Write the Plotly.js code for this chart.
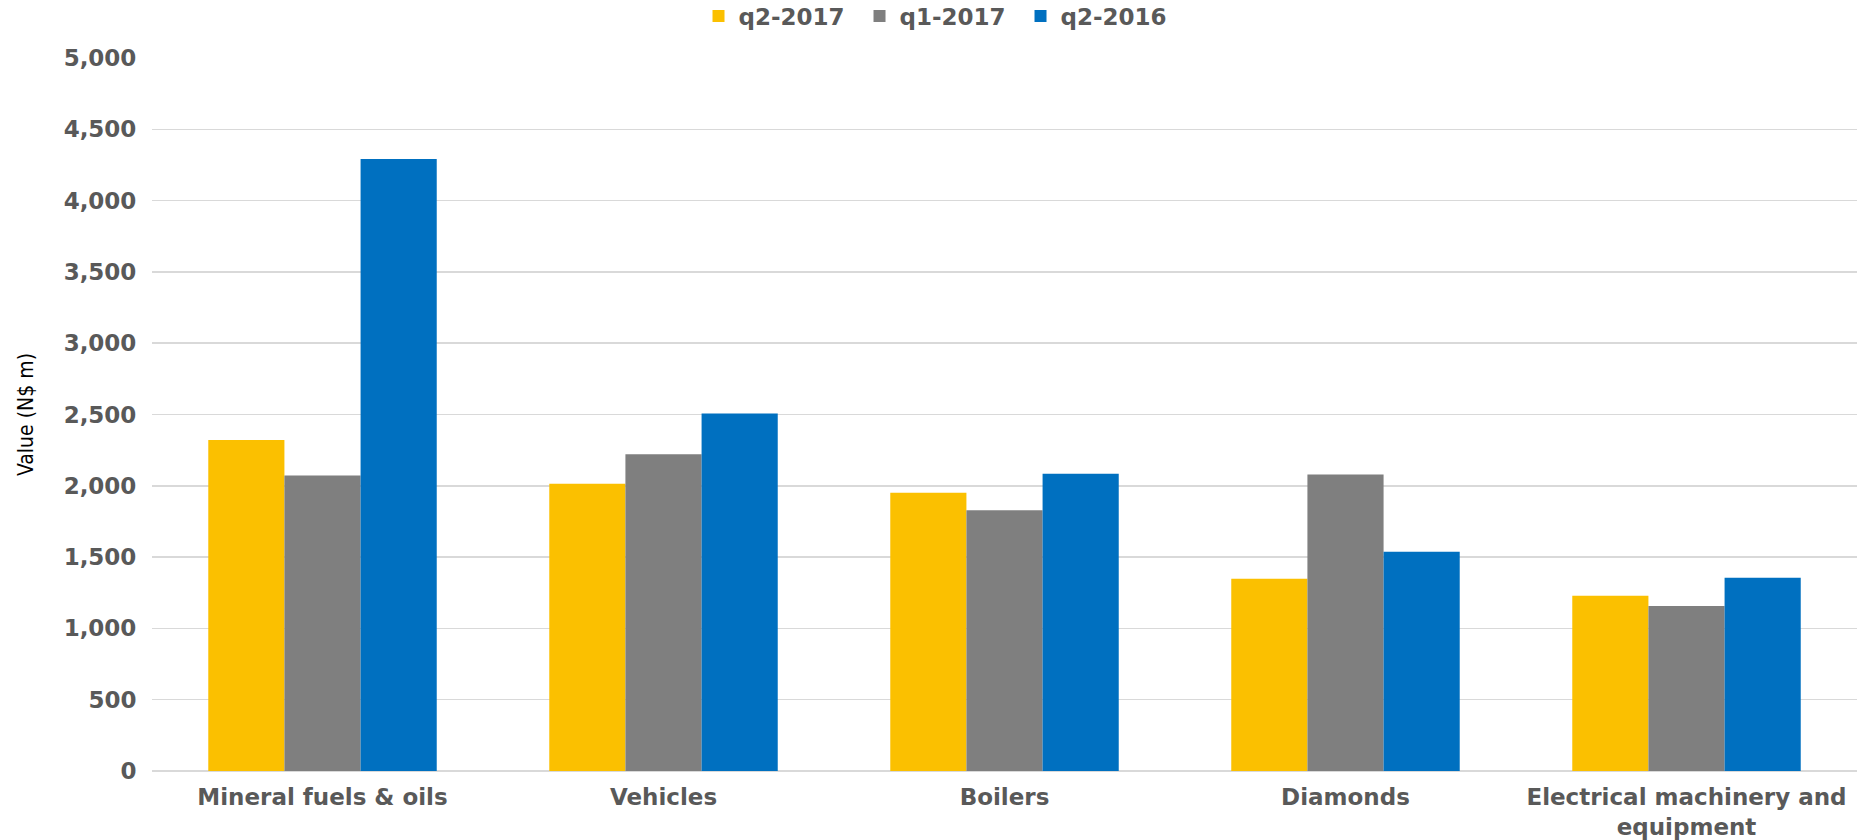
<!DOCTYPE html>
<html>
<head>
<meta charset="utf-8">
<script src="https://cdn.plot.ly/plotly-3.0.1.min.js"></script>
<style>html,body{margin:0;padding:0;background:#fff;}#chart{width:1864px;height:840px;}</style>
</head>
<body>
<div id="chart"></div>
<script>
const categories = ["Mineral fuels & oils", "Vehicles", "Boilers", "Diamonds", "Electrical machinery and<br>equipment"];
const seriesNames = ["q2-2017", "q1-2017", "q2-2016"];
const q2_2017 = [2322, 2014, 1951, 1348, 1229];
const q1_2017 = [2072, 2222, 1829, 2079, 1157];
const q2_2016 = [4292, 2507, 2084, 1537, 1355];
const colors = ["#FBC000", "#7F7F7F", "#0070C0"];
const yTicks = [0, 500, 1000, 1500, 2000, 2500, 3000, 3500, 4000, 4500, 5000];

const seriesValues = [q2_2017, q1_2017, q2_2016];
const traces = seriesValues.map((vals, i) => ({
  type: 'bar',
  name: seriesNames[i],
  x: categories,
  y: vals,
  marker: {color: colors[i], line: {width: 0}},
  hoverinfo: 'x+y+name'
}));

const tickFont = {family: 'DejaVu Sans, Verdana, sans-serif', size: 23, color: '#595959', weight: 'bold'};

const layout = {
  width: 1864,
  height: 840,
  margin: {l: 152, r: 7, t: 58, b: 69, autoexpand: false},
  paper_bgcolor: '#ffffff',
  plot_bgcolor: '#ffffff',
  barmode: 'group',
  bargap: 0.33,
  bargroupgap: 0,
  showlegend: true,
  legend: {
    orientation: 'h',
    x: 0.5043, xref: 'container', xanchor: 'center',
    y: 0.981, yref: 'container', yanchor: 'middle',
    font: tickFont,
    entrywidth: 116,
    entrywidthmode: 'pixels',
    traceorder: 'normal'
  },
  xaxis: {
    type: 'category',
    tickfont: tickFont,
    tickangle: 0,
    showgrid: false,
    showline: false,
    zeroline: false,
    ticks: 'outside', ticklen: 5, tickcolor: 'rgba(0,0,0,0)',
    fixedrange: true
  },
  yaxis: {
    range: [0, 5000],
    tickvals: yTicks,
    tickformat: ',d',
    tickfont: tickFont,
    showgrid: true,
    gridcolor: '#D9D9D9',
    gridwidth: 1.5,
    zeroline: true,
    zerolinecolor: '#D9D9D9',
    zerolinewidth: 1.5,
    showline: false,
    ticks: 'outside', ticklen: 10, tickcolor: 'rgba(0,0,0,0)',
    title: {text: 'Value (N$ m)', font: {family: 'DejaVu Sans Condensed, Liberation Sans Narrow, sans-serif', size: 21, color: '#000000'}, standoff: 24},
    fixedrange: true
  }
};

Plotly.newPlot('chart', traces, layout, {displayModeBar: false, staticPlot: true});
</script>
</body>
</html>
